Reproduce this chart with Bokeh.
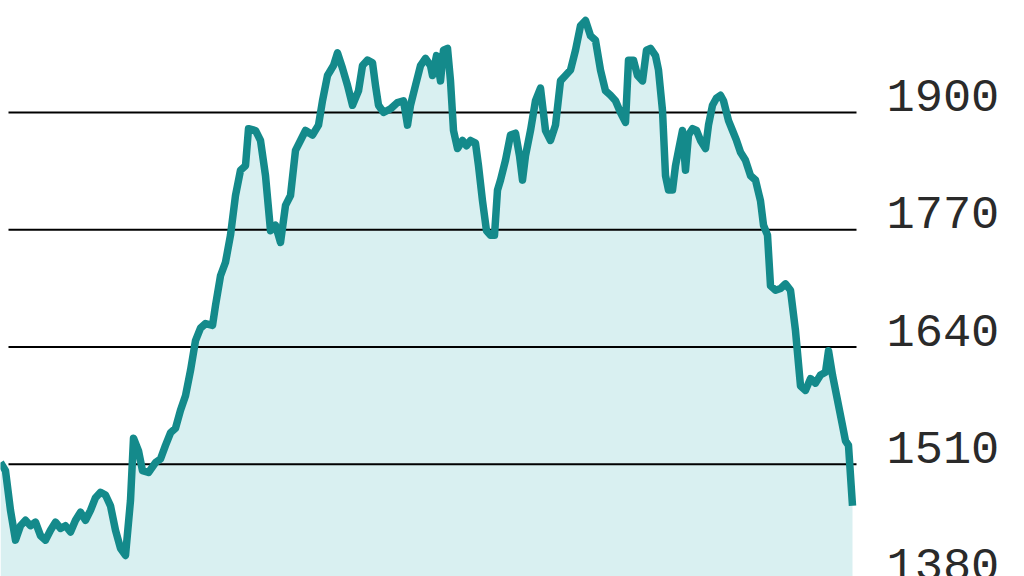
from bokeh.plotting import figure
from bokeh.models import ColumnDataSource, Range1d
from bokeh.core.properties import value
from bokeh.embed import file_html
from bokeh.resources import INLINE

# ---- data ----
session = [0, 5, 10, 15, 20, 25, 30, 35, 40, 45, 50, 55, 60, 65, 70, 75, 80, 85, 90, 95,
           100, 105, 110, 115, 120, 125, 130, 133, 138, 142, 148, 155, 160, 165, 170, 175,
           180, 185, 190, 195, 200, 205, 212, 215, 220, 225, 230, 235, 240, 245, 248, 255,
           260, 265, 270, 275, 280, 285, 290, 295, 300, 305, 312, 318, 322, 327, 333, 337,
           342, 347, 352, 358, 362, 367, 372, 375, 378, 383, 390, 397, 403, 407, 410, 415,
           420, 425, 430, 432, 436, 440, 443, 447, 450, 453, 457, 462, 466, 470, 475, 478,
           482, 486, 490, 494, 497, 500, 505, 510, 515, 519, 522, 525, 530, 535, 540, 545,
           550, 555, 560, 565, 570, 575, 580, 585, 590, 595, 600, 605, 610, 615, 620, 625,
           628, 633, 637, 642, 646, 650, 655, 658, 662, 665, 668, 672, 675, 678, 682, 685,
           688, 692, 696, 700, 705, 708, 712, 716, 720, 723, 728, 732, 736, 740, 745, 750,
           755, 760, 763, 767, 770, 775, 780, 785, 790, 795, 800, 805, 810, 815, 820, 825,
           828, 832, 837, 842, 845, 848, 852]
price = [1512, 1503, 1459, 1426, 1442, 1448, 1442, 1446, 1431, 1426, 1437, 1446, 1439, 1442,
         1435, 1448, 1457, 1448, 1459, 1473, 1479, 1476, 1464, 1437, 1417, 1409, 1470, 1539,
         1525, 1503, 1501, 1512, 1516, 1531, 1545, 1550, 1570, 1586, 1614, 1647, 1661, 1666,
         1664, 1686, 1719, 1734, 1764, 1808, 1836, 1841, 1882, 1880, 1869, 1830, 1769, 1775,
         1756, 1797, 1808, 1858, 1869, 1880, 1875, 1886, 1913, 1941, 1952, 1966, 1949, 1930,
         1908, 1924, 1952, 1958, 1955, 1930, 1908, 1900, 1904, 1911, 1913, 1886, 1908, 1930,
         1952, 1960, 1952, 1941, 1963, 1935, 1969, 1971, 1935, 1880, 1860, 1869, 1863, 1869,
         1866, 1841, 1802, 1769, 1764, 1764, 1814, 1825, 1847, 1875, 1877, 1852, 1825, 1852,
         1880, 1913, 1927, 1880, 1869, 1886, 1935, 1941, 1947, 1969, 1996, 2002, 1985, 1980,
         1947, 1924, 1919, 1913, 1900, 1889, 1958, 1958, 1941, 1935, 1969, 1971, 1963, 1947,
         1902, 1830, 1814, 1814, 1841, 1858, 1880, 1836, 1875, 1882, 1880, 1869, 1860, 1886,
         1908, 1916, 1919, 1913, 1891, 1880, 1869, 1856, 1847, 1830, 1825, 1802, 1775, 1764,
         1708, 1703, 1705, 1710, 1703, 1658, 1597, 1592, 1605, 1600, 1609, 1612, 1636, 1609,
         1581, 1553, 1536, 1531, 1464]
tick_values = [1380, 1510, 1640, 1770, 1900, 2030]
tick_labels = ["1380", "1510", "1640", "1770", "1900", "2030"]

# ---- layout / style ----
Y_MIN, Y_MAX = 1385.7, 2024.1
X_MIN, X_MAX = 0, 1024
GRID_X0, GRID_X1 = 8, 856
LABEL_X = 886
LINE_COLOR = "#148a8b"
FILL_COLOR = "#d9f0f1"

p = figure(width=1024, height=576, output_backend="svg", toolbar_location=None,
           x_range=Range1d(X_MIN, X_MAX), y_range=Range1d(Y_MIN, Y_MAX),
           x_axis_location=None, y_axis_location=None,
           min_border=0, tools="",
           styles={"position": "absolute", "left": "0px", "top": "0px"})
p.outline_line_color = None
p.xgrid.visible = False
p.ygrid.visible = False
p.background_fill_color = "white"
p.border_fill_color = "white"

src = ColumnDataSource(dict(x=session, y=price, base=[Y_MIN] * len(session)))
p.varea(x="x", y1="base", y2="y", source=src, fill_color=FILL_COLOR)

gsrc = ColumnDataSource(dict(x0=[GRID_X0] * len(tick_values), x1=[GRID_X1] * len(tick_values),
                             y=tick_values))
p.segment(x0="x0", y0="y", x1="x1", y1="y", source=gsrc, line_color="black", line_width=2)

p.line(x="x", y="y", source=src, line_color=LINE_COLOR, line_width=7.5, line_join="round")

lsrc = ColumnDataSource(dict(x=[LABEL_X] * len(tick_values), y=tick_values, t=tick_labels))
p.text(x="x", y="y", text="t", source=lsrc, text_font=value("Liberation Mono"),
       text_font_size="47px", text_baseline="alphabetic", text_align="left",
       y_offset=-17, text_color="#2a2a2a")

open("out.html", "w").write(file_html(p, INLINE))
